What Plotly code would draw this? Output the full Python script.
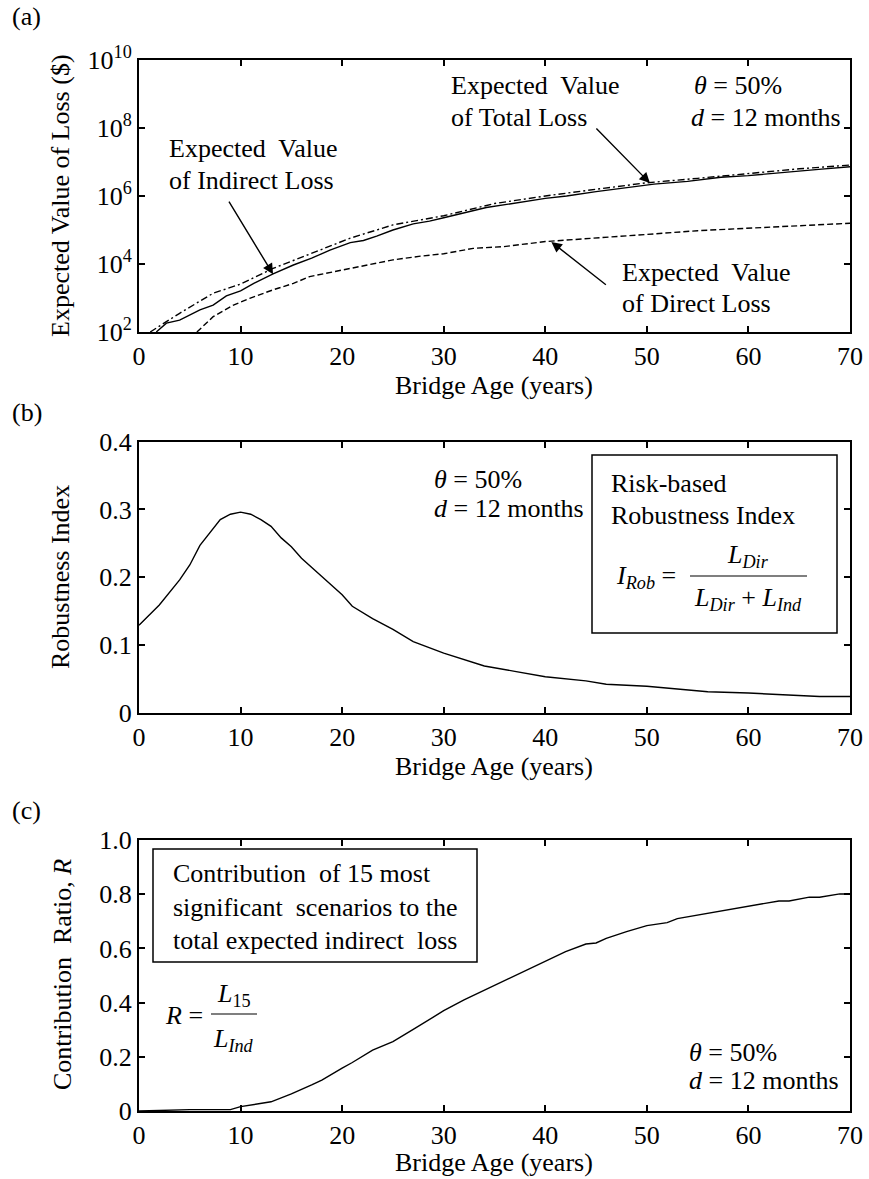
import plotly.graph_objects as go

# ---------------- data ----------------
# (a) expected losses ($) versus bridge age (years)
age_indirect = [1.7, 2.7, 4.0, 6.0, 7.3, 8.6, 10.0, 11.3, 13.2, 15.2, 17.0, 18.8, 20.8, 22.1,
                23.4, 25.0, 27.0, 28.6, 30.0, 34.2, 40.0, 42.1, 45.0, 49.0, 50.7, 54.0,
                57.3, 60.0, 63.9, 67.2, 70.0]
loss_indirect = [1.0e2, 1.82e2, 2.24e2, 4.47e2, 6.17e2, 1.15e3, 1.62e3, 2.69e3, 5.13e3, 9.33e3,
                 1.48e4, 2.57e4, 4.27e4, 4.90e4, 6.60e4, 1.00e5, 1.51e5, 1.82e5, 2.29e5, 4.57e5,
                 8.50e5, 1.00e6, 1.35e6, 1.90e6, 2.24e6, 2.69e6, 3.55e6, 3.98e6, 5.13e6,
                 6.17e6, 7.24e6]

age_total = [1.1, 4.0, 7.3, 10.0, 13.2, 17.0, 20.8, 25.0, 30.0, 35.0, 40.0, 45.0, 50.0,
             55.0, 60.0, 65.0, 70.0]
loss_total = [1.0e2, 3.55e2, 1.38e3, 2.57e3, 7.41e3, 2.04e4, 5.75e4, 1.41e5, 2.63e5, 6.0e5,
              1.00e6, 1.58e6, 2.45e6, 3.31e6, 4.68e6, 6.31e6, 8.13e6]

age_direct = [5.7, 7.3, 9.3, 10.9, 13.2, 15.2, 16.8, 20.0, 22.4, 25.0, 27.7, 30.0, 32.9,
              35.9, 40.0, 43.1, 46.0, 50.0, 55.0, 60.0, 63.9, 70.0]
loss_direct = [1.0e2, 2.82e2, 6.17e2, 9.77e2, 1.74e3, 2.69e3, 4.27e3, 6.61e3, 9.33e3, 1.32e4,
               1.70e4, 2.00e4, 2.88e4, 3.24e4, 4.57e4, 5.37e4, 6.31e4, 7.41e4, 9.55e4,
               1.12e5, 1.32e5, 1.58e5]

# (b) risk-based robustness index
age_rob = [0, 2, 4, 5, 6, 8, 9, 10, 11, 12, 13, 14, 15, 16, 18, 20, 21, 23, 25, 27, 30, 32,
           34, 37, 40, 44, 46, 50, 52, 56, 60, 64, 67, 70]
robustness = [0.129, 0.159, 0.196, 0.218, 0.247, 0.285, 0.293, 0.296, 0.293, 0.285, 0.275,
              0.258, 0.245, 0.228, 0.201, 0.174, 0.157, 0.139, 0.123, 0.105, 0.088, 0.078,
              0.069, 0.061, 0.053, 0.047, 0.042, 0.039, 0.036, 0.031, 0.029, 0.026, 0.024,
              0.024]

# (c) contribution ratio of the 15 most significant scenarios
age_ratio = [0, 5, 9, 10, 13, 15, 17, 18, 20, 21, 23, 25, 27, 28, 30, 32, 34, 36, 38, 40, 42,
             44, 45, 46, 48, 50, 52, 53, 55, 58, 60, 63, 64, 66, 67, 69, 70]
ratio = [0.0, 0.005, 0.005, 0.016, 0.034, 0.063, 0.096, 0.114, 0.158, 0.179, 0.225, 0.256,
         0.301, 0.323, 0.370, 0.410, 0.446, 0.483, 0.517, 0.553, 0.588, 0.616, 0.620, 0.637,
         0.662, 0.684, 0.695, 0.710, 0.723, 0.742, 0.754, 0.775, 0.775, 0.789, 0.789, 0.801,
         0.801]

log_ticks = [1e2, 1e4, 1e6, 1e8, 1e10]
log_tick_text = ["10<sup>2</sup>", "10<sup>4</sup>", "10<sup>6</sup>", "10<sup>8</sup>",
                 "10<sup>10</sup>"]
age_ticks = [0, 10, 20, 30, 40, 50, 60, 70]

# ---------------- layout helpers ----------------
W, H = 869, 1179
FONT = "Liberation Serif, Times New Roman, serif"
FS = 26


def px(x):
    return x / W


def py(y):
    return 1 - y / H


X_DOM = [px(139), px(850)]
DOMS = {
    "a": [py(332), py(60)],
    "b": [py(712.7), py(441.7)],
    "c": [py(1111), py(840)],
}

fig = go.Figure()

line = dict(color="black", width=1.4)
fig.add_trace(go.Scatter(x=age_total, y=loss_total, mode="lines", xaxis="x", yaxis="y",
                         line=dict(line, dash="7px,3px,2px,3px")))
fig.add_trace(go.Scatter(x=age_indirect, y=loss_indirect, mode="lines", xaxis="x", yaxis="y",
                         line=line))
fig.add_trace(go.Scatter(x=age_direct, y=loss_direct, mode="lines", xaxis="x", yaxis="y",
                         line=dict(line, dash="6px,3px")))
fig.add_trace(go.Scatter(x=age_rob, y=robustness, mode="lines", xaxis="x2", yaxis="y2",
                         line=line))
fig.add_trace(go.Scatter(x=age_ratio, y=ratio, mode="lines", xaxis="x3", yaxis="y3",
                         line=line))

axis_common = dict(showline=True, linecolor="black", linewidth=2, mirror="allticks",
                   ticks="inside", ticklen=6, tickwidth=1.5, tickcolor="black",
                   showgrid=False, zeroline=False, automargin=False,
                   tickfont=dict(family=FONT, size=FS, color="black"))

layout = dict(
    width=W, height=H, margin=dict(l=0, r=0, t=0, b=0, autoexpand=False),
    paper_bgcolor="white", plot_bgcolor="white", showlegend=False,
    font=dict(family=FONT, size=FS, color="black"),
)
for i in ["", "2", "3"]:
    layout["xaxis" + i] = dict(axis_common, domain=X_DOM, range=[0, 70], tickvals=age_ticks,
                               anchor="y" + i)
layout["yaxis"] = dict(axis_common, domain=DOMS["a"], type="log", range=[2, 10],
                       tickvals=log_ticks, ticktext=log_tick_text, anchor="x")
layout["yaxis2"] = dict(axis_common, domain=DOMS["b"], range=[0, 0.4],
                        tickvals=[0, 0.1, 0.2, 0.3, 0.4],
                        ticktext=["0", "0.1", "0.2", "0.3", "0.4"], anchor="x2")
layout["yaxis3"] = dict(axis_common, domain=DOMS["c"], range=[0, 1.0],
                        tickvals=[0, 0.2, 0.4, 0.6, 0.8, 1.0],
                        ticktext=["0", "0.2", "0.4", "0.6", "0.8", "1.0"], anchor="x3")
fig.update_layout(**layout)

ann = []


def text(x, y, s, xanchor="left", size=FS, angle=0):
    ann.append(dict(x=px(x), y=py(y), xref="paper", yref="paper", text=s, showarrow=False,
                    xanchor=xanchor, yanchor="middle", textangle=angle,
                    font=dict(family=FONT, size=size, color="black")))


def arrow(xref, yref, x, y, ax, ay):
    ann.append(dict(x=x, y=y, xref=xref, yref=yref, ax=ax, ay=ay, text="", showarrow=True,
                    arrowhead=2, arrowsize=1.5, arrowwidth=1.4, arrowcolor="black",
                    standoff=0))


# panel labels
text(10, 16, "(a)")
text(10, 412, "(b)")
text(10, 810, "(c)")

# axis titles
for y in (386, 766, 1162):
    text(494.5, y, "Bridge Age (years)", xanchor="center")
text(61, 196, "Expected Value of Loss ($)", xanchor="center", angle=-90)
text(60, 577, "Robustness Index", xanchor="center", angle=-90)
text(62, 975, "Contribution  Ratio, <i>R</i>", xanchor="center", angle=-90)

# panel (a) callouts
text(167, 148, "Expected  Value")
text(167, 181, "of Indirect Loss")
text(449, 86, "Expected  Value")
text(449, 117, "of Total Loss")
text(620, 272, "Expected  Value")
text(620, 303, "of Direct Loss")
text(692, 86, "<i>θ</i> = 50%")
text(689, 117, "<i>d</i> = 12 months")
arrow("x", "y", 13.2, 3.70, -45, -74)
arrow("x", "y", 50.3, 6.38, -55, -56)
arrow("x", "y", 40.6, 4.65, 56, 44)

# panel (b) notes
text(432, 479, "<i>θ</i> = 50%")
text(432, 508, "<i>d</i> = 12 months")
text(609, 483, "Risk-based")
text(609, 515, "Robustness Index")
text(614, 577, "<i>I</i><sub><i>Rob</i></sub> =")
text(748, 556, "<i>L</i><sub><i>Dir</i></sub>", xanchor="center")
text(748, 599, "<i>L</i><sub><i>Dir</i></sub> + <i>L</i><sub><i>Ind</i></sub>", xanchor="center")

# panel (c) notes
text(171, 873, "Contribution  of 15 most")
text(171, 907, "significant  scenarios to the")
text(171, 940, "total expected indirect  loss")
text(163, 1015, "<i>R</i> =")
text(234, 995, "<i>L</i><sub>15</sub>", xanchor="center")
text(234, 1040, "<i>L</i><sub><i>Ind</i></sub>", xanchor="center")
text(687, 1052, "<i>θ</i> = 50%")
text(687, 1080, "<i>d</i> = 12 months")

shapes = [
    dict(type="rect", xref="paper", yref="paper", x0=px(592), x1=px(837), y0=py(455),
         y1=py(633), line=dict(color="black", width=1.5)),
    dict(type="line", xref="paper", yref="paper", x0=px(690), x1=px(807), y0=py(576),
         y1=py(576), line=dict(color="black", width=1.2)),
    dict(type="rect", xref="paper", yref="paper", x0=px(153), x1=px(477), y0=py(849),
         y1=py(962), line=dict(color="black", width=1.5)),
    dict(type="line", xref="paper", yref="paper", x0=px(211), x1=px(257), y0=py(1014),
         y1=py(1014), line=dict(color="black", width=1.2)),
]

fig.update_layout(annotations=ann, shapes=shapes)
fig.write_html("out.html")
